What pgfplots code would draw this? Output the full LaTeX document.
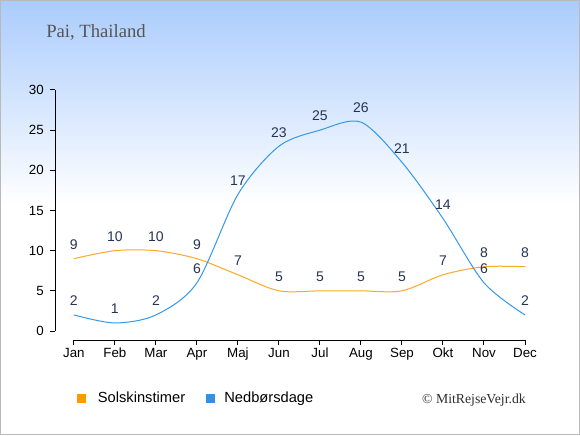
\documentclass[border=0pt]{standalone}
\usepackage{pgfplots}
\pgfplotsset{compat=1.18}
\usepackage{fontspec}
\setmainfont{Liberation Sans}
\newfontfamily\titlefont{Liberation Serif}
\definecolor{bgtop}{RGB}{170,204,252}
\definecolor{sunline}{RGB}{255,168,36}
\definecolor{rainline}{RGB}{52,152,235}
\definecolor{sunbox}{RGB}{255,153,0}
\definecolor{rainbox}{RGB}{46,147,230}
\definecolor{lbl}{RGB}{38,52,82}
\definecolor{titlegray}{RGB}{85,85,85}
\definecolor{bordergray}{RGB}{185,185,185}
\begin{document}
\begin{tikzpicture}
\fill[white] (0pt,0pt) rectangle (435pt,326.25pt);
\shade[top color=bgtop, bottom color=white] (0pt,172.5pt) rectangle (435pt,326.25pt);
\draw[line width=0.75pt, bordergray] (0.375pt,0.375pt) rectangle (434.625pt,325.875pt);
\node[anchor=base west, inner sep=0pt, font=\titlefont\fontsize{14}{16}\selectfont, text=titlegray] at (34.5pt,297.75pt) {Pai, Thailand};
\node[anchor=base east, inner sep=0pt, font=\titlefont\fontsize{10.3}{12}\selectfont, text={rgb,255:red,45;green,45;blue,45}] at (394.5pt,24pt) {© MitRejseVejr.dk};
\begin{axis}[
  at={(41.25pt,71.25pt)}, anchor=south west, scale only axis,
  width=352.5pt, height=187.5pt,
  xmin=-0.46, xmax=11, ymin=-1.12, ymax=30,
  axis line style={draw=none},
  tick pos=left, tick align=outside, major tick length=3.75pt,
  tick style={black, line width=0.75pt},
  xtick={0,...,11},
  xticklabels={Jan,Feb,Mar,Apr,Maj,Jun,Jul,Aug,Sep,Okt,Nov,Dec},
  ytick={0,5,...,30},
  ticklabel style={font=\fontsize{10}{12}\selectfont, inner sep=0pt},
  xticklabel style={yshift=-2pt},
  yticklabel style={xshift=-4.5pt},
  /pgf/number format/assume math mode=true,
  clip=false,
  legend style={at={(0.046,-0.234)}, anchor=west, draw=none, fill=none, inner sep=0pt,
    font=\fontsize{11}{13}\selectfont, legend columns=2,
    /tikz/every even column/.append style={column sep=13.5pt}},
  legend cell align=left,
  every node near coord/.append style={font=\fontsize{10.5}{12}\selectfont, text=lbl, anchor=base, yshift=6.9pt, inner sep=0pt},
]
\draw[black, line width=0.75pt] (axis cs:-0.46,0) -- (axis cs:-0.46,30);
\draw[black, line width=0.75pt] (axis cs:0,-1.12) -- (axis cs:11,-1.12);
\addlegendimage{legend image code/.code={\fill[sunbox] (0pt,-3.1pt) rectangle (6.2pt,3.1pt); \path (13.4pt,0pt);}}
\addlegendentry{Solskinstimer}
\addlegendimage{legend image code/.code={\fill[rainbox] (0pt,-3.1pt) rectangle (6.2pt,3.1pt); \path (11.5pt,0pt);}}
\addlegendentry{Nedbørsdage}
\addplot[sunline, line width=0.75pt, smooth, nodes near coords, forget plot] coordinates {
(0,9) (1,10) (2,10) (3,9) (4,7) (5,5) (6,5) (7,5) (8,5) (9,7) (10,8) (11,8)};
\addplot[rainline, line width=0.75pt, smooth, nodes near coords, forget plot] coordinates {
(0,2) (1,1) (2,2) (3,6) (4,17) (5,23) (6,25) (7,26) (8,21) (9,14) (10,6) (11,2)};
\end{axis}
\end{tikzpicture}
\end{document}
